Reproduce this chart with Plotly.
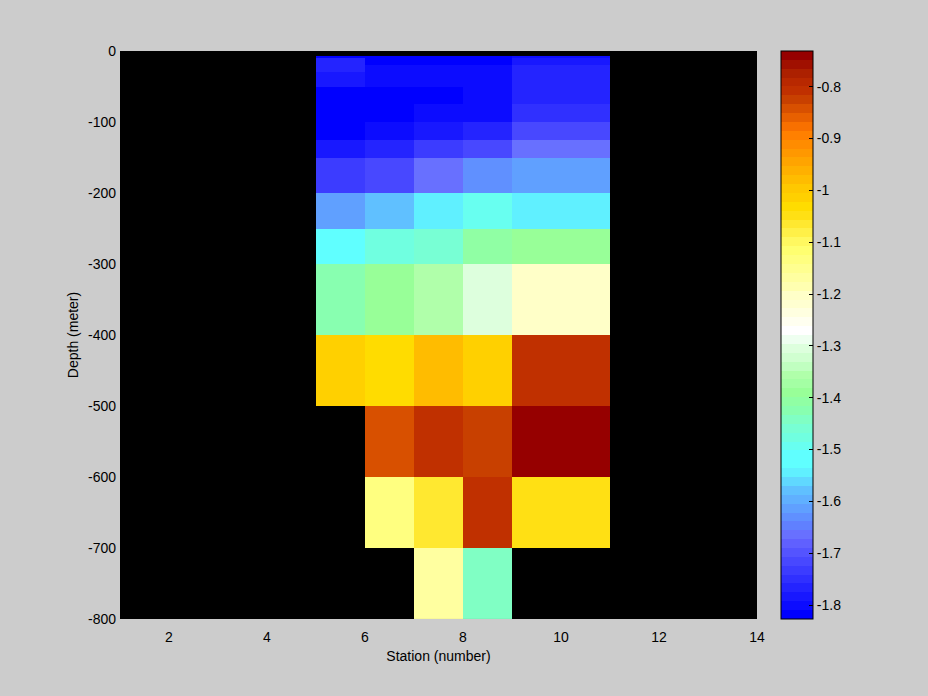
import numpy as np
import plotly.graph_objects as go

# Station cell edges (x) and depth cell edges (y, metres)
stations = [5, 6, 7, 8, 9, 11]
depths = [-7, -10, -20, -30, -50, -75, -100, -125, -150, -200, -250,
          -300, -400, -500, -600, -700, -800]

# Temperature for each depth layer (top -> bottom), one list per station column
temp_st5 = [-1.818, -1.767, -1.767, -1.784, -1.818, -1.818, -1.818, -1.784,
            -1.733, -1.613, -1.510, -1.424, -1.013, None, None, None]
temp_st6 = [-1.818, -1.818, -1.801, -1.801, -1.818, -1.818, -1.801, -1.767,
            -1.716, -1.579, -1.476, -1.390, -1.031, -0.842, -1.133, None]
temp_st7 = [-1.818, -1.818, -1.801, -1.801, -1.818, -1.801, -1.784, -1.733,
            -1.664, -1.544, -1.459, -1.356, -0.979, -0.808, -1.065, -1.168]
temp_st8 = [-1.818, -1.818, -1.801, -1.801, -1.801, -1.801, -1.767, -1.716,
            -1.630, -1.493, -1.407, -1.305, -1.013, -0.825, -0.808, -1.442]
temp_st9 = [-1.801, -1.784, -1.767, -1.767, -1.767, -1.750, -1.716, -1.664,
            -1.613, -1.544, -1.390, -1.202, -0.808, -0.739, -1.048, None]

cmin, cmax = -1.827, -0.731
x_ticks = [2, 4, 6, 8, 10, 12, 14]
y_ticks = [0, -100, -200, -300, -400, -500, -600, -700, -800]
cb_ticks = [-0.8, -0.9, -1.0, -1.1, -1.2, -1.3, -1.4, -1.5, -1.6, -1.7, -1.8]

# 64-level colormap (bottom -> top)
cmap = [
    "#0000ff", "#0c0cff", "#1818ff", "#2424ff", "#3030ff", "#3c3cff", "#4848ff", "#5454ff",
    "#6060ff", "#6870ff", "#6080ff", "#6090ff", "#60a0ff", "#60b0ff", "#60c0ff", "#60d8ff",
    "#60f0ff", "#60ffff", "#60ffff", "#68fff0", "#70ffe0", "#78ffd4", "#80ffc4", "#88ffb0",
    "#90ffa4", "#98ff98", "#a4ffa4", "#b0ffaa", "#c0ffc0", "#d0ffd0", "#ddffdd", "#eefff0",
    "#ffffff", "#fffff0", "#ffffe0", "#ffffd0", "#ffffc8", "#ffffb0", "#ffffa0", "#ffff90",
    "#ffff80", "#ffff70", "#fff860", "#fff048", "#ffe830", "#ffe014", "#ffdc00", "#ffd000",
    "#ffc800", "#ffbc00", "#ffb000", "#ffa400", "#ff9800", "#ff8c00", "#ff8000", "#f87000",
    "#e86000", "#d85000", "#c84000", "#c03000", "#b82800", "#ac2000", "#a01000", "#960000",
]
n = len(cmap)
colorscale = []
for k, c in enumerate(cmap):
    colorscale.append([k / n, c])
    colorscale.append([(k + 1) / n, c])

cols = [temp_st5, temp_st6, temp_st7, temp_st8, temp_st9]
z = np.array([[np.nan if v is None else v for v in col] for col in cols]).T

fig = go.Figure(go.Heatmap(
    x=stations, y=depths, z=z,
    zmin=cmin, zmax=cmax, colorscale=colorscale,
    hoverongaps=False,
    colorbar=dict(
        x=(781 - 120) / 637, xanchor="left", y=0.5, yanchor="middle",
        len=1.0, lenmode="fraction", thickness=32,
        outlinewidth=1, outlinecolor="black",
        xpad=0, ypad=0,
        tickvals=cb_ticks, ticktext=[f"{v:g}" for v in cb_ticks],
        ticks="inside", ticklen=4, tickcolor="black",
        tickfont=dict(size=14, color="black"),
    ),
))

fig.update_layout(
    width=928, height=696,
    paper_bgcolor="#cccccc", plot_bgcolor="black",
    margin=dict(l=120, r=171, t=51, b=77),
    font=dict(family="Liberation Sans, Arial, sans-serif", size=14, color="black"),
    showlegend=False,
)
fig.update_xaxes(
    range=[1, 14], tickvals=x_ticks, ticktext=[str(v) for v in x_ticks],
    showgrid=False, zeroline=False, showline=False, ticks="",
    ticklabelstandoff=8,
    title=dict(text="Station (number)", standoff=7, font=dict(size=14)),
)
fig.update_yaxes(
    range=[-800, 0], tickvals=y_ticks, ticktext=[str(v) for v in y_ticks],
    showgrid=False, zeroline=False, showline=False, ticks="",
    ticklabelstandoff=3,
    title=dict(text="Depth (meter)", standoff=6, font=dict(size=14)),
)

fig.write_html(
    "out.html",
    config={"displayModeBar": False},
    post_script="document.body.style.margin='0';document.body.style.background='#cccccc';",
)
